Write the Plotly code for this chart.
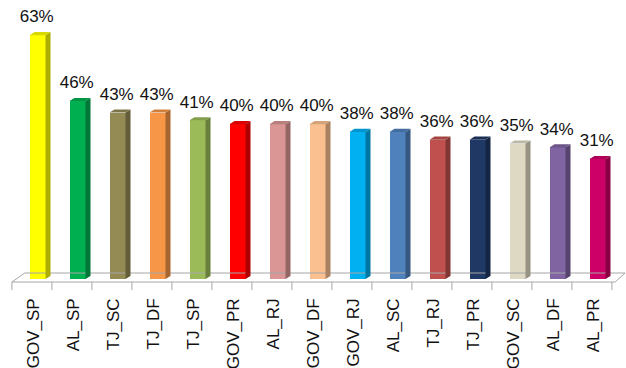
import plotly.graph_objects as go

categories = ["GOV_SP", "AL_SP", "TJ_SC", "TJ_DF", "TJ_SP", "GOV_PR", "AL_RJ", "GOV_DF",
              "GOV_RJ", "AL_SC", "TJ_RJ", "TJ_PR", "GOV_SC", "AL_DF", "AL_PR"]
values = [63, 46, 43, 43, 41, 40, 40, 40, 38, 38, 36, 36, 35, 34, 31]
colors = ["#FFFF00", "#00B050", "#948A54", "#F79646", "#9BBB59", "#FF0000", "#D99694", "#FAC090",
          "#00B0F0", "#4F81BD", "#C0504D", "#1F3864", "#DDD9C3", "#8064A2", "#CC0066"]


def shade(hexc, f):
    h = hexc.lstrip("#")
    r, g, b = int(h[0:2], 16), int(h[2:4], 16), int(h[4:6], 16)
    if f < 1:
        r, g, b = int(r * f), int(g * f), int(b * f)
    else:
        t = f - 1
        r, g, b = int(r + (255 - r) * t), int(g + (255 - g) * t), int(b + (255 - b) * t)
    return f"rgb({r},{g},{b})"


n = len(categories)
xs = list(range(n))
W = 0.4      # front face width (category units)
DX = 0.125   # depth offset in x
DY = 0.8     # depth offset in y (value units)

fig = go.Figure()

# floor (front edge, back edge, end slants) and tick marks
fl_front_y, fl_back_y = -0.78, 1.55
xl, xr = -0.64, n - 0.56
fig.add_trace(go.Scatter(
    x=[xl, xr, xr + 0.25, xl + 0.32, xl],
    y=[fl_front_y, fl_front_y, fl_back_y, fl_back_y, fl_front_y],
    mode="lines", line=dict(color="#A6A6A6", width=1), hoverinfo="skip", showlegend=False))
tx, ty = [], []
for k in range(n + 1):
    x0 = xl + k
    tx += [x0, x0, None]
    ty += [fl_front_y, -2.9, None]
fig.add_trace(go.Scatter(x=tx, y=ty, mode="lines", line=dict(color="#A6A6A6", width=1),
                         hoverinfo="skip", showlegend=False))

# front faces
fig.add_trace(go.Bar(x=xs, y=values, width=W, marker=dict(color=colors, line=dict(width=0)),
                     hoverinfo="skip", showlegend=False))

# side and top faces
for i, (v, c) in enumerate(zip(values, colors)):
    xa, xb = i - W / 2, i + W / 2
    fig.add_trace(go.Scatter(
        x=[xb, xb + DX, xb + DX, xb, xb], y=[0, DY, v + DY, v, 0],
        fill="toself", fillcolor=shade(c, 0.68), mode="lines", line=dict(width=0),
        hoverinfo="skip", showlegend=False))
    fig.add_trace(go.Scatter(
        x=[xa, xb, xb + DX, xa + DX, xa], y=[v, v, v + DY, v + DY, v],
        fill="toself", fillcolor=shade(c, 0.85), mode="lines", line=dict(width=0),
        hoverinfo="skip", showlegend=False))

# value labels
fig.add_trace(go.Scatter(
    x=[i - 0.02 for i in xs], y=[v + 4.4 for v in values], mode="text",
    text=[f"{v}%" for v in values],
    textfont=dict(family="Liberation Sans", size=17, color="#111111"),
    hoverinfo="skip", showlegend=False))

fig.update_layout(
    width=626, height=368,
    margin=dict(l=0, r=0, t=0, b=78),
    paper_bgcolor="white", plot_bgcolor="white",
    xaxis=dict(range=[-0.9375, 14.7125], showgrid=False, zeroline=False, showline=False,
               tickmode="array", tickvals=[i - 0.1 for i in xs], ticktext=categories,
               tickangle=-90, tickfont=dict(family="Liberation Sans", size=17, color="#111111"),
               ticks="", ticklabelstandoff=4, fixedrange=True),
    yaxis=dict(range=[-2.842, 72.09], showgrid=False, zeroline=False, showline=False,
               showticklabels=False, ticks="", fixedrange=True),
    bargap=0,
)

fig.write_html("out.html")
